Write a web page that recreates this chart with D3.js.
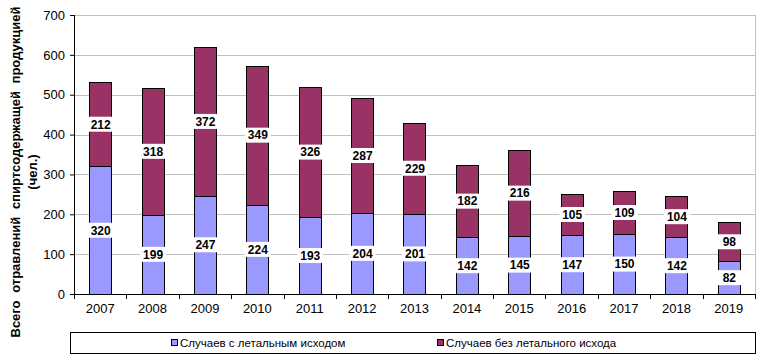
<!DOCTYPE html>
<html>
<head>
<meta charset="utf-8" />
<script src="https://d3js.org/d3.v7.min.js"></script>
<style>
  body { margin: 0; background: #fff; }
  text { font-family: Arial, "Liberation Sans", sans-serif; }
</style>
</head>
<body>
<div id="chart"></div>
<script>
var years = ["2007","2008","2009","2010","2011","2012","2013","2014","2015","2016","2017","2018","2019"];
var fatal = [320,199,247,224,193,204,201,142,145,147,150,142,82];
var nonFatal = [212,318,372,349,326,287,229,182,216,105,109,104,98];
var yTicks = [0,100,200,300,400,500,600,700];
var seriesNames = ["Случаев с летальным исходом", "Случаев без летального исхода"];
var colors = ["#9999FF", "#993366"];

var width = 772, height = 363;
var plotL = 74, plotR = 755, plotT = 15, plotB = 294;

var svg = d3.select("#chart").append("svg")
  .attr("width", width)
  .attr("height", height);

var x = d3.scaleBand().domain(years).range([plotL, plotR]).paddingInner(0.58).paddingOuter(0.29);
var y = d3.scaleLinear().domain([0, 700]).range([plotB, plotT]);

// gridlines
svg.selectAll(".grid").data(yTicks.slice(1)).enter().append("line")
  .attr("x1", plotL).attr("x2", plotR)
  .attr("y1", function(d){ return Math.round(y(d)) + 0.5; })
  .attr("y2", function(d){ return Math.round(y(d)) + 0.5; })
  .attr("stroke", "#c0c0c0").attr("stroke-width", 1);

svg.append("line")
  .attr("x1", plotR + 0.5).attr("x2", plotR + 0.5)
  .attr("y1", plotT).attr("y2", plotB)
  .attr("stroke", "#c0c0c0");

var data = years.map(function(yr, i) {
  return { year: yr, a: fatal[i], b: nonFatal[i] };
});

var stack = d3.stack().keys(["a", "b"])(data);

svg.selectAll(".series").data(stack).enter().append("g")
  .attr("fill", function(d, i){ return colors[i]; })
  .selectAll("rect").data(function(d){ return d; }).enter().append("rect")
    .attr("x", function(d){ return Math.round(x(d.data.year)) + 0.5; })
    .attr("width", Math.round(x.bandwidth()))
    .attr("y", function(d){ return Math.round(y(d[1])) + 0.5; })
    .attr("height", function(d){ return Math.round(y(d[0])) - Math.round(y(d[1])); })
    .attr("stroke", "#000").attr("stroke-width", 1);

// value labels
var labels = [];
stack.forEach(function(s) {
  s.forEach(function(d) {
    labels.push({ year: d.data.year, v: d[1] - d[0], mid: (d[0] + d[1]) / 2 });
  });
});

var lg = svg.selectAll(".lab").data(labels).enter().append("g")
  .attr("transform", function(d){
    return "translate(" + (x(d.year) + x.bandwidth() / 2 + 0.5) + "," + y(d.mid) + ")";
  });
lg.append("rect")
  .attr("x", -13).attr("y", -7.5).attr("width", 26).attr("height", 15)
  .attr("fill", "#fff");
lg.append("text")
  .attr("text-anchor", "middle").attr("dy", "0.36em")
  .attr("font-size", "12px").attr("font-weight", "bold").attr("fill", "#000")
  .text(function(d){ return d.v; });

// axes
var yAxis = svg.append("g").attr("transform", "translate(" + plotL + ",0)")
  .call(d3.axisLeft(y).tickValues(yTicks).tickSize(4).tickPadding(5));
var xAxis = svg.append("g").attr("transform", "translate(0," + plotB + ")")
  .call(d3.axisBottom(x).tickSize(0).tickPadding(10));

[yAxis, xAxis].forEach(function(g) {
  g.select(".domain").attr("stroke", "#000");
  g.selectAll("text").attr("font-size", "13px").attr("fill", "#000")
    .attr("font-family", "Arial, 'Liberation Sans', sans-serif");
  g.selectAll("line").attr("stroke", "#000");
});
yAxis.select(".domain").attr("d", "M0.5," + plotT + "V" + (plotB + 0.5));
xAxis.select(".domain").attr("d", "M" + plotL + ",0.5H" + (plotR + 1));

// category separator ticks
var step = x.step();
svg.selectAll(".xt").data(d3.range(years.length + 1)).enter().append("line")
  .attr("x1", function(i){ return Math.round(plotL + i * step) + 0.5; })
  .attr("x2", function(i){ return Math.round(plotL + i * step) + 0.5; })
  .attr("y1", plotB).attr("y2", plotB + 5)
  .attr("stroke", "#000");

// y title
var yt = svg.append("text")
  .attr("transform", "translate(20,172) rotate(-90)")
  .attr("text-anchor", "middle")
  .attr("font-size", "13px").attr("font-weight", "bold").attr("fill", "#000");
yt.append("tspan").attr("x", 0).attr("dy", 0).attr("word-spacing", "4px")
  .text("Всего отравлений спиртсодержащей продукцией");
yt.append("tspan").attr("x", 0).attr("y", 17).text("(чел.)");

// legend
svg.append("rect")
  .attr("x", 70.5).attr("y", 332.5).attr("width", 685).attr("height", 21)
  .attr("fill", "#fff").attr("stroke", "#000");
var legX = [171, 437];
seriesNames.forEach(function(n, i) {
  svg.append("rect")
    .attr("x", legX[i] + 0.5).attr("y", 339.5).attr("width", 6).attr("height", 6)
    .attr("fill", colors[i]).attr("stroke", "#000");
  svg.append("text")
    .attr("x", legX[i] + 9).attr("y", 347)
    .attr("font-size", "11.5px").attr("fill", "#000")
    .text(n);
});
</script>
</body>
</html>
